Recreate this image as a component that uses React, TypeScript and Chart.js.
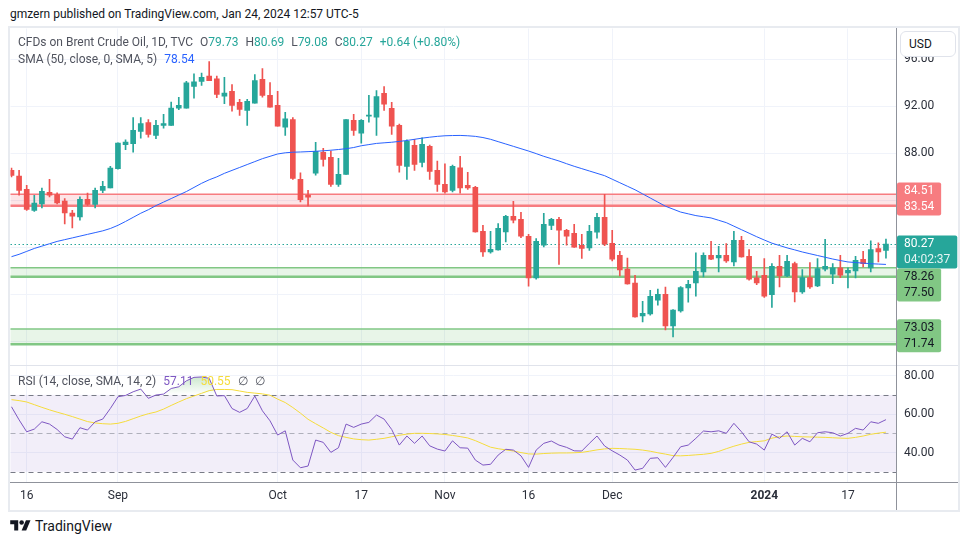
import React, { useEffect, useRef } from 'react';
import { Chart, registerables } from 'chart.js';

Chart.register(...registerables);

const FONT = 'Roboto, "Noto Sans", Arial, sans-serif';
const UP = '#26a69a';
const DOWN = '#ef5350';

// Daily candles, Aug 14 2023 .. Jan 24 2024 (bar index = trading day)
const OPEN = [
  86.55, 86.07, 84.94, 83.15, 83.69, 84.68, 84.49, 83.94, 82.92, 82.58,
  84.09, 83.66, 84.85, 85.05, 86.69, 88.74, 88.82, 89.87, 90.62, 89.53,
  90.38, 90.38, 91.86, 91.86, 93.70, 94.13, 94.58, 94.36, 92.88, 93.28,
  92.34, 91.66, 92.28, 94.30, 92.94, 92.09, 90.24, 90.89, 85.79, 84.45,
  86.32, 88.09, 87.66, 85.36, 86.21, 90.81, 89.73, 91.17, 91.09, 93.11,
  91.83, 90.38, 86.89, 88.68, 87.23, 88.60, 86.55, 85.36, 84.85, 86.78,
  85.28, 85.11, 81.36, 79.60, 79.77, 81.30, 82.64, 82.38, 80.94, 77.39,
  80.17, 81.87, 82.38, 81.45, 81.19, 80.17, 79.94, 81.28, 82.55, 80.34,
  79.32, 78.15, 76.96, 74.15, 74.32, 75.49, 76.00, 73.30, 74.58, 76.54,
  76.96, 77.90, 79.32, 79.09, 79.32, 78.75, 80.60, 79.23, 77.39, 77.62,
  75.97, 78.38, 77.56, 78.61, 76.20, 77.42, 76.71, 78.13, 77.70, 78.26,
  77.81, 77.98, 78.98, 78.24, 79.89, 79.73,
];
const HIGH = [
  86.75, 86.55, 85.28, 84.43, 85.05, 85.80, 84.65, 84.14, 83.15, 84.30,
  84.62, 85.05, 85.62, 86.89, 88.90, 89.16, 91.06, 91.04, 90.87, 90.81,
  91.32, 92.37, 92.77, 94.13, 94.78, 94.84, 95.83, 94.58, 94.47, 93.87,
  92.60, 92.60, 94.72, 95.23, 94.04, 93.28, 91.49, 91.06, 86.35, 84.85,
  88.94, 88.43, 88.20, 87.57, 90.89, 91.32, 90.89, 92.94, 93.36, 93.70,
  92.34, 90.49, 89.16, 89.19, 89.33, 88.71, 87.35, 87.12, 87.00, 87.74,
  86.38, 85.19, 81.87, 81.36, 82.01, 82.72, 83.91, 82.98, 81.11, 80.74,
  82.89, 82.47, 82.55, 81.53, 81.96, 81.11, 81.87, 82.89, 84.51, 81.45,
  79.66, 79.09, 77.62, 75.40, 76.34, 76.43, 76.62, 74.70, 76.65, 77.19,
  79.52, 79.52, 80.51, 80.09, 80.31, 81.36, 80.94, 79.80, 77.96, 79.04,
  78.61, 79.32, 79.32, 78.75, 78.10, 78.70, 79.04, 80.68, 78.61, 79.32,
  78.24, 79.23, 79.66, 80.54, 80.37, 80.69,
];
const LOW = [
  86.00, 84.43, 83.15, 83.06, 83.35, 84.30, 83.70, 82.00, 81.64, 82.30,
  83.57, 83.35, 84.65, 85.05, 86.65, 88.31, 88.11, 89.30, 89.39, 89.25,
  90.15, 90.38, 91.72, 91.86, 92.71, 93.79, 94.19, 92.74, 92.23, 91.60,
  91.23, 90.38, 92.28, 92.79, 91.94, 90.32, 89.53, 85.79, 83.86, 83.52,
  86.15, 86.92, 85.19, 85.19, 86.21, 89.53, 88.88, 90.66, 89.53, 91.66,
  89.62, 86.41, 85.79, 86.55, 86.84, 85.79, 84.77, 84.62, 84.71, 84.62,
  84.94, 81.28, 79.23, 79.49, 79.75, 80.45, 82.07, 80.82, 76.68, 77.28,
  80.03, 81.50, 78.55, 80.17, 79.98, 79.06, 79.74, 80.77, 80.14, 78.83,
  77.56, 76.86, 74.05, 73.64, 74.21, 75.06, 72.96, 72.37, 74.47, 75.32,
  75.83, 77.47, 78.95, 77.90, 78.70, 78.41, 79.15, 77.19, 76.82, 75.72,
  74.87, 76.62, 77.50, 75.35, 76.06, 76.49, 76.65, 77.98, 76.91, 77.42,
  76.54, 77.39, 78.32, 77.90, 78.75, 79.08,
];
const CLOSE = [
  86.13, 84.85, 83.23, 83.77, 84.77, 84.43, 83.77, 82.92, 82.66, 84.09,
  83.66, 84.85, 85.19, 86.75, 88.88, 88.96, 89.96, 90.53, 89.62, 90.38,
  90.55, 91.86, 92.09, 94.02, 94.10, 94.47, 94.19, 93.02, 93.13, 92.09,
  91.74, 92.43, 94.21, 92.94, 91.94, 90.32, 90.95, 85.87, 84.06, 84.28,
  88.17, 87.49, 85.36, 86.21, 90.89, 89.96, 90.81, 91.23, 92.85, 92.20,
  90.32, 86.98, 89.02, 87.06, 88.77, 86.47, 85.36, 84.71, 86.89, 85.05,
  85.05, 81.30, 79.60, 79.83, 81.62, 82.64, 82.30, 80.94, 77.39, 80.51,
  81.96, 82.38, 81.45, 80.94, 80.00, 79.91, 81.36, 82.55, 80.26, 78.98,
  78.07, 76.88, 74.07, 74.38, 75.83, 76.00, 73.30, 74.64, 76.57, 76.85,
  77.96, 79.32, 78.98, 79.32, 78.83, 80.60, 79.17, 77.28, 76.96, 75.83,
  78.38, 77.56, 78.81, 76.20, 77.42, 76.62, 78.19, 78.38, 78.26, 77.62,
  78.04, 78.89, 78.61, 79.80, 79.60, 80.27,
];
const SMA50 = [
  79.2, 79.4, 79.65, 79.9, 80.1, 80.3, 80.5, 80.65, 80.8, 80.95,
  81.1, 81.25, 81.4, 81.6, 81.87, 82.2, 82.55, 82.9, 83.2, 83.55,
  83.85, 84.15, 84.45, 84.75, 85.1, 85.45, 85.75, 86.0, 86.3, 86.55,
  86.8, 87.05, 87.3, 87.55, 87.75, 87.95, 88.05, 88.1, 88.12, 88.15,
  88.18, 88.22, 88.27, 88.33, 88.4, 88.5, 88.65, 88.75, 88.85, 88.9,
  88.95, 89.02, 89.1, 89.2, 89.3, 89.38, 89.45, 89.5, 89.52, 89.53,
  89.5, 89.45, 89.35, 89.2, 89.0, 88.8, 88.6, 88.4, 88.2, 87.98,
  87.75, 87.55, 87.35, 87.12, 86.9, 86.7, 86.5, 86.3, 86.1, 85.8,
  85.5, 85.2, 84.9, 84.55, 84.2, 83.85, 83.5, 83.25, 83.0, 82.85,
  82.7, 82.6, 82.5, 82.3, 82.1, 81.8, 81.5, 81.2, 80.9, 80.62,
  80.35, 80.15, 79.95, 79.78, 79.6, 79.45, 79.3, 79.15, 79.0, 78.87,
  78.75, 78.7, 78.65, 78.6, 78.57, 78.54,
];
const RSI = [
  63.8, 57.0, 50.8, 52.2, 56.0, 54.8, 52.0, 48.2, 47.0, 52.9,
  51.7, 56.0, 57.4, 62.9, 69.0, 69.7, 71.6, 73.0, 68.2, 69.9,
  70.4, 73.3, 74.2, 77.3, 79.1, 79.3, 78.6, 69.4, 69.6, 62.9,
  60.9, 62.9, 69.4, 61.7, 56.5, 49.1, 51.3, 36.1, 32.1, 33.0,
  46.5, 45.3, 40.1, 42.5, 54.8, 53.1, 54.8, 55.7, 59.5, 57.4,
  52.0, 43.9, 48.6, 44.8, 48.6, 43.5, 41.8, 40.8, 46.1, 42.5,
  42.3, 36.1, 33.5, 33.9, 38.7, 41.7, 41.3, 38.3, 32.3, 41.3,
  44.8, 46.0, 43.9, 42.7, 40.9, 40.8, 44.8, 48.6, 43.4, 40.9,
  38.7, 36.1, 30.9, 31.8, 37.0, 37.3, 32.3, 37.5, 43.0, 43.9,
  47.4, 51.2, 50.8, 51.3, 50.0, 55.2, 50.8, 45.6, 44.4, 41.3,
  49.6, 47.4, 50.8, 43.9, 47.4, 45.6, 50.3, 50.8, 50.3, 48.6,
  50.0, 52.6, 51.7, 56.0, 55.2, 57.1,
];
const RSI_MA = [
  67.5, 67.0, 66.3, 64.9, 63.5, 62.2, 61.0, 59.9, 58.7, 57.4,
  56.1, 55.4, 55.0, 54.8, 55.2, 56.2, 57.6, 59.0, 60.2, 61.1,
  62.6, 64.5, 66.3, 68.0, 69.4, 70.8, 72.2, 72.8, 72.8, 72.7,
  72.0, 71.3, 70.9, 70.5, 69.8, 67.8, 66.0, 63.4, 60.5, 57.3,
  55.0, 52.8, 50.5, 48.8, 47.9, 47.1, 46.7, 46.5, 46.9, 47.4,
  48.2, 49.0, 49.6, 50.0, 50.0, 49.9, 49.7, 49.4, 48.9, 48.3,
  47.6, 46.2, 44.5, 42.8, 42.0, 41.4, 40.8, 40.0, 39.3, 39.2,
  39.5, 39.7, 39.8, 39.8, 39.9, 40.1, 40.7, 41.4, 41.9, 42.2,
  42.1, 41.9, 41.7, 41.3, 40.7, 39.9, 39.2, 38.4, 38.3, 38.5,
  38.8, 39.1, 39.6, 40.6, 42.0, 43.3, 44.4, 45.3, 45.7, 46.1,
  47.5, 48.2, 48.6, 48.4, 48.2, 48.1, 48.0, 47.9, 47.7, 47.5,
  47.4, 47.9, 48.6, 49.5, 50.1, 50.6,
];

const TICK_INDEX = [2, 14, 35, 46, 57, 68, 79, 99, 110];
const TICK_LABELS = ['16', 'Sep', 'Oct', '17', 'Nov', '16', 'Dec', '2024', '17'];
const PRICE_TICKS = [72, 76, 80, 84, 88, 92, 96];
const PRICE_LABELED = [88, 92, 96];
const RSI_TICKS = [40, 60, 80];
const RSI_LEVELS = [70, 50, 30];
const ZONE_HI = [84.51, 78.26, 73.03];
const ZONE_LO = [83.54, 77.5, 71.74];
const ZONE_KIND = ['red', 'green', 'green'];
const LAST_PRICE = 80.27;
const COUNTDOWN = '04:02:37';

const X_MIN = -0.13;
const X_MAX = 116.32;
const P_MIN = 69.96;
const P_MAX = 98.64;
const R_MIN = 24.7;
const R_MAX = 85.45;

const ZONE_STYLE: Record<string, { fill: string; line: string; label: string; text: string }> = {
  red: { fill: 'rgba(242,54,69,0.13)', line: '#f77c80', label: '#f77c80', text: '#ffffff' },
  green: { fill: 'rgba(76,175,80,0.13)', line: '#81c784', label: '#81c784', text: '#131722' },
};

const noPad = (s: any) => {
  s.paddingTop = 0;
  s.paddingBottom = 0;
  s.paddingLeft = 0;
  s.paddingRight = 0;
};

const overlayPlugin = {
  id: 'tvOverlay',
  beforeDatasetsDraw(chart: any) {
    const { ctx, chartArea } = chart;
    const y = chart.scales.y;
    const yr = chart.scales.yr;
    ctx.save();
    // RSI band
    const t = yr.getPixelForValue(RSI_LEVELS[0]);
    const b = yr.getPixelForValue(RSI_LEVELS[2]);
    ctx.fillStyle = 'rgba(126,87,194,0.1)';
    ctx.fillRect(chartArea.left, t, chartArea.width, b - t);
    ctx.lineWidth = 1;
    ctx.setLineDash([5, 4]);
    RSI_LEVELS.forEach((lv, k) => {
      ctx.strokeStyle = k === 1 ? 'rgba(120,123,134,0.55)' : '#787b86';
      const py = Math.round(yr.getPixelForValue(lv)) + 0.5;
      ctx.beginPath();
      ctx.moveTo(chartArea.left, py);
      ctx.lineTo(chartArea.right, py);
      ctx.stroke();
    });
    ctx.setLineDash([]);
    // zones
    ZONE_HI.forEach((hi, k) => {
      const st = ZONE_STYLE[ZONE_KIND[k]];
      const top = y.getPixelForValue(hi);
      const bot = y.getPixelForValue(ZONE_LO[k]);
      ctx.fillStyle = st.fill;
      ctx.fillRect(chartArea.left, top, chartArea.width, bot - top);
      ctx.strokeStyle = st.line;
      ctx.lineWidth = 1.5;
      ctx.beginPath();
      ctx.moveTo(chartArea.left, top);
      ctx.lineTo(chartArea.right, top);
      ctx.stroke();
      ctx.lineWidth = 2.5;
      ctx.beginPath();
      ctx.moveTo(chartArea.left, bot);
      ctx.lineTo(chartArea.right, bot);
      ctx.stroke();
    });
    // last price dotted line
    const lp = Math.round(y.getPixelForValue(LAST_PRICE)) + 0.5;
    ctx.strokeStyle = UP;
    ctx.lineWidth = 1;
    ctx.setLineDash([1.5, 2.5]);
    ctx.beginPath();
    ctx.moveTo(chartArea.left, lp);
    ctx.lineTo(chartArea.right, lp);
    ctx.stroke();
    ctx.restore();
  },
  afterDraw(chart: any) {
    const { ctx, width, height } = chart;
    const y = chart.scales.y;
    const x = chart.scales.x;
    ctx.save();
    // pane separator
    ctx.strokeStyle = '#e0e3eb';
    ctx.lineWidth = 1;
    const sep = Math.round(y.bottom) + 0.5;
    ctx.beginPath();
    ctx.moveTo(0, sep);
    ctx.lineTo(width, sep);
    ctx.stroke();
    // axis lines
    ctx.strokeStyle = '#8f929b';
    const ax = Math.round(x.top) + 0.5;
    ctx.beginPath();
    ctx.moveTo(0, ax);
    ctx.lineTo(width, ax);
    ctx.stroke();
    const ay = Math.round(y.left) + 0.5;
    ctx.beginPath();
    ctx.moveTo(ay, 0);
    ctx.lineTo(ay, height);
    ctx.stroke();

    // price labels
    type G = { desired: number; texts: string[]; bg: string; fg: string[] };
    const groups: G[] = [];
    const BOX_H = 33;
    ZONE_HI.forEach((hi, k) => {
      const st = ZONE_STYLE[ZONE_KIND[k]];
      const mid = (y.getPixelForValue(hi) + y.getPixelForValue(ZONE_LO[k])) / 2;
      groups.push({ desired: mid - BOX_H / 2 - 1, texts: [hi.toFixed(2), ZONE_LO[k].toFixed(2)], bg: st.label, fg: [st.text, st.text] });
    });
    groups.push({ desired: y.getPixelForValue(LAST_PRICE) - 8.5, texts: [LAST_PRICE.toFixed(2), COUNTDOWN], bg: UP, fg: ['#ffffff', 'rgba(255,255,255,0.88)'] });
    groups.sort((a, b) => a.desired - b.desired);
    let prevBottom = -1e9;
    ctx.font = `12px ${FONT}`;
    ctx.textBaseline = 'middle';
    ctx.textAlign = 'left';
    groups.forEach((g) => {
      const top = Math.max(g.desired, prevBottom);
      prevBottom = top + BOX_H;
      const w = Math.max(...g.texts.map((s) => ctx.measureText(s).width)) + 14;
      ctx.fillStyle = g.bg;
      ctx.beginPath();
      if (ctx.roundRect) ctx.roundRect(y.left + 1, top, w, BOX_H, 2);
      else ctx.rect(y.left + 1, top, w, BOX_H);
      ctx.fill();
      g.texts.forEach((s, j) => {
        ctx.fillStyle = g.fg[j];
        ctx.fillText(s, y.left + 8, top + 8.5 + j * 16);
      });
    });
    ctx.restore();
  },
};

export default function App() {
  const ref = useRef<HTMLCanvasElement>(null);

  useEffect(() => {
    document.body.style.margin = '0';
    const canvas = ref.current;
    if (!canvas) return;
    const idx = OPEN.map((_, i) => i);
    const colors = idx.map((i) => (CLOSE[i] >= OPEN[i] ? UP : DOWN));
    const tickFont = (ctx: any) => {
      const k = ctx && ctx.tick ? TICK_INDEX.indexOf(ctx.tick.value) : -1;
      return { family: FONT, size: 12, weight: k >= 0 && TICK_LABELS[k] === '2024' ? 'bold' : 'normal' };
    };
    const rsiFill: any = { target: { value: 70 }, above: 'rgba(76,175,80,0.15)', below: 'rgba(0,0,0,0)' };
    const chart = new Chart(canvas, {
      type: 'bar',
      data: {
        datasets: [
          {
            type: 'line',
            data: idx.map((i) => ({ x: i, y: SMA50[i] })),
            borderColor: '#2962ff',
            borderWidth: 1,
            pointRadius: 0,
            tension: 0,
            yAxisID: 'y',
            order: 0,
          } as any,
          {
            type: 'bar',
            data: idx.map((i) => ({ x: i, y: [OPEN[i], CLOSE[i]] })),
            backgroundColor: colors,
            borderWidth: 0,
            barThickness: 5,
            minBarLength: 1,
            grouped: false,
            yAxisID: 'y',
            order: 1,
          } as any,
          {
            type: 'bar',
            data: idx.map((i) => ({ x: i, y: [LOW[i], HIGH[i]] })),
            backgroundColor: colors,
            borderWidth: 0,
            barThickness: 1,
            grouped: false,
            yAxisID: 'y',
            order: 2,
          } as any,
          {
            type: 'line',
            data: idx.map((i) => ({ x: i, y: RSI[i] })),
            borderColor: '#7e57c2',
            borderWidth: 1,
            pointRadius: 0,
            yAxisID: 'yr',
            order: 0,
            fill: rsiFill,
          } as any,
          {
            type: 'line',
            data: idx.map((i) => ({ x: i, y: RSI_MA[i] })),
            borderColor: '#f5dc3c',
            borderWidth: 1,
            pointRadius: 0,
            yAxisID: 'yr',
            order: 0,
          } as any,
        ],
      },
      options: {
        animation: false,
        responsive: false,
        maintainAspectRatio: false,
        events: [],
        layout: { padding: 0 },
        plugins: { legend: { display: false }, tooltip: { enabled: false } },
        scales: {
          x: {
            type: 'linear',
            min: X_MIN,
            max: X_MAX,
            offset: false,
            position: 'bottom',
            grid: { color: '#f0f3fa', drawTicks: false, offset: false },
            border: { display: false },
            afterBuildTicks: (s: any) => {
              s.ticks = TICK_INDEX.map((v) => ({ value: v }));
            },
            ticks: {
              autoSkip: false,
              maxRotation: 0,
              padding: 7,
              color: '#2a2e39',
              font: tickFont as any,
              callback: (v: any) => {
                const k = TICK_INDEX.indexOf(Number(v));
                return k >= 0 ? TICK_LABELS[k] : '';
              },
            },
            afterFit: (s: any) => {
              s.height = 28;
              noPad(s);
            },
          },
          y: {
            type: 'linear',
            position: 'right',
            stack: 'pane',
            stackWeight: 337,
            min: P_MIN,
            max: P_MAX,
            grid: { color: '#f0f3fa', drawTicks: false },
            border: { display: false },
            afterBuildTicks: (s: any) => {
              s.ticks = PRICE_TICKS.map((v) => ({ value: v }));
            },
            ticks: {
              padding: 8,
              color: '#2a2e39',
              font: { family: FONT, size: 12 },
              callback: (v: any) => (PRICE_LABELED.includes(Number(v)) ? Number(v).toFixed(2) : ''),
            },
            afterFit: (s: any) => {
              s.width = 62;
              noPad(s);
            },
          },
          yr: {
            type: 'linear',
            position: 'right',
            stack: 'pane',
            stackWeight: 117,
            min: R_MIN,
            max: R_MAX,
            grid: { color: '#f0f3fa', drawTicks: false },
            border: { display: false },
            afterBuildTicks: (s: any) => {
              s.ticks = RSI_TICKS.map((v) => ({ value: v }));
            },
            ticks: {
              padding: 8,
              color: '#2a2e39',
              font: { family: FONT, size: 12 },
              callback: (v: any) => Number(v).toFixed(2),
            },
            afterFit: (s: any) => {
              s.width = 62;
              noPad(s);
            },
          },
        },
      } as any,
      plugins: [overlayPlugin],
    });
    // gradient for the overbought fill (fades toward the 70 level)
    const yr: any = chart.scales.yr;
    const g = chart.ctx.createLinearGradient(0, yr.getPixelForValue(85), 0, yr.getPixelForValue(70));
    g.addColorStop(0, 'rgba(76,175,80,0.45)');
    g.addColorStop(1, 'rgba(76,175,80,0)');
    rsiFill.above = g;
    chart.update();
    return () => chart.destroy();
  }, []);

  const grey = '#50535e';
  const legendRow: React.CSSProperties = {
    position: 'absolute',
    left: 18,
    fontFamily: FONT,
    fontSize: 12,
    color: grey,
    whiteSpace: 'nowrap',
    lineHeight: '16px',
  };
  const sp = (c: string, t: string, ml = 0) => <span style={{ color: c, marginLeft: ml }}>{t}</span>;

  return (
    <div style={{ position: 'absolute', left: 0, top: 0, width: 970, height: 545, background: '#fff', overflow: 'hidden' }}>
      <div style={{ position: 'absolute', left: 10, top: 5, fontFamily: FONT, fontSize: 12, color: '#131722', whiteSpace: 'nowrap', lineHeight: '18px' }}>
        gmzern published on TradingView.com, Jan 24, 2024 12:57 UTC-5
      </div>
      <div style={{ position: 'absolute', left: 8, top: 26, width: 952, height: 486, border: '2px solid #e8ebf0', boxSizing: 'border-box' }} />
      <canvas ref={ref} width={948} height={482} style={{ position: 'absolute', left: 10, top: 28, width: 948, height: 482 }} />
      <div style={{ ...legendRow, top: 34 }}>
        {sp(grey, 'CFDs on Brent Crude Oil, 1D, TVC')}
        {sp(grey, 'O', 7)}{sp(UP, '79.73')}
        {sp(grey, 'H', 7)}{sp(UP, '80.69')}
        {sp(grey, 'L', 7)}{sp(UP, '79.08')}
        {sp(grey, 'C', 7)}{sp(UP, '80.27')}
        {sp(UP, '+0.64 (+0.80%)', 7)}
      </div>
      <div style={{ ...legendRow, top: 51 }}>
        {sp(grey, 'SMA (50, close, 0, SMA, 5)')}
        {sp('#2962ff', '78.54', 7)}
      </div>
      <div style={{ ...legendRow, top: 373 }}>
        {sp(grey, 'RSI (14, close, SMA, 14, 2)')}
        {sp('#7e57c2', '57.11', 7)}
        {sp('#f5dc3c', '50.55', 7)}
        {sp(grey, '∅', 7)}
        {sp(grey, '∅', 7)}
      </div>
      <div style={{ position: 'absolute', left: 900, top: 31, width: 56, height: 26, border: '1px solid #e0e3eb', borderRadius: 6, background: '#fff', boxSizing: 'border-box', fontFamily: FONT, fontSize: 12, color: '#131722', lineHeight: '24px', paddingLeft: 8 }}>
        USD
      </div>
      <div style={{ position: 'absolute', left: 10, top: 518, display: 'flex', alignItems: 'center', fontFamily: FONT, fontSize: 14, color: '#131722' }}>
        <svg width="21" height="16" viewBox="0 0 36 28" style={{ marginRight: 4 }}>
          <path d="M14 22H7V11H0V4h14v18z" fill="#131722" />
          <circle cx="20" cy="8" r="4" fill="#131722" />
          <path d="M28 22h-8l7.5-18h8L28 22z" fill="#131722" />
        </svg>
        TradingView
      </div>
    </div>
  );
}
